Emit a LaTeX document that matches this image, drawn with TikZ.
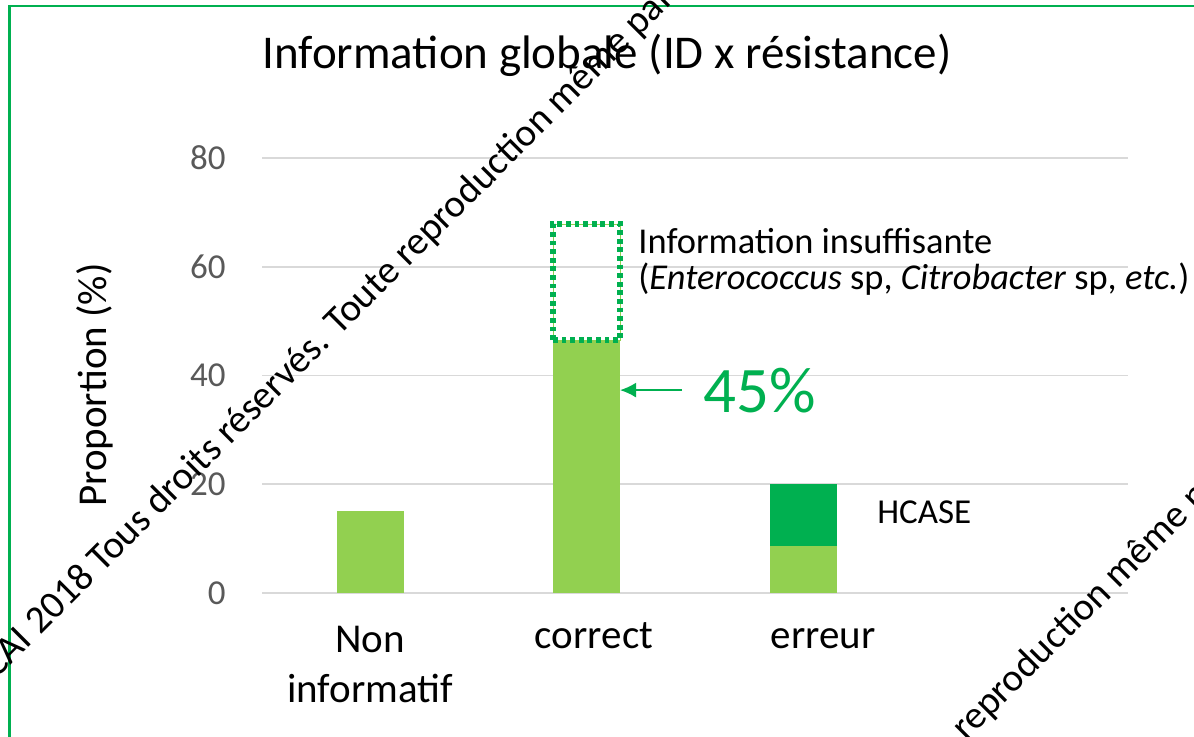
\documentclass[tikz,border=0pt]{standalone}
\usepackage{fontspec}
\setmainfont{Carlito}
\usepackage{tikz}
\usetikzlibrary{arrows.meta,positioning}
\definecolor{vertclair}{HTML}{92D050}
\definecolor{vertfonce}{HTML}{00B050}
\definecolor{grisaxe}{HTML}{595959}
\definecolor{grisgrille}{HTML}{D9D9D9}
\tikzset{
  grille/.style={draw=grisgrille,line width=0.8pt},
  graduation/.style={anchor=east,inner sep=0pt,text=grisaxe,font=\fontsize{17.5}{20}\selectfont},
  categorie/.style={anchor=base,inner sep=0pt,font=\fontsize{20.5}{24}\selectfont},
  barre/.style={rectangle,inner sep=0pt,outer sep=0pt,draw=none,fill=vertclair,minimum width=33.5pt},
  legende/.style={anchor=base west,inner sep=0pt,font=\fontsize{18.2}{21}\selectfont},
  filigrane/.style={rotate=45,anchor=base west,inner sep=0pt,font=\fontsize{19.5}{22}\selectfont}
}

\begin{document}
\begin{tikzpicture}[x=0.5pt,y=-0.5pt]
\useasboundingbox[fill=white] (0,0) rectangle (1194,736);
\draw[vertfonce,line width=1.4pt] (9.5,6) rectangle (1220,760);

\node[inner sep=0pt,anchor=base,font=\fontsize{23.5}{26}\selectfont] (titre) at (607,68) {Information globale (ID x r\'esistance)};
\node[rotate=90,inner sep=0pt,font=\fontsize{20.5}{24}\selectfont] (axey) at (95,385) {Proportion (\%)};

\draw[grille] (262,593) -- (1128,593);
\draw[grille] (262,484.25) -- (1128,484.25);
\draw[grille] (262,375.5) -- (1128,375.5);
\draw[grille] (262,266.75) -- (1128,266.75);
\draw[grille] (262,158) -- (1128,158);
\node[graduation] (g0) at (226,593) {0};
\node[graduation] (g20) at (226,484.25) {20};
\node[graduation] (g40) at (226,375.5) {40};
\node[graduation] (g60) at (226,266.75) {60};
\node[graduation] (g80) at (226,158) {80};

\node[barre,minimum height=41pt] (bnon) at (370,552) {};
\node[barre,minimum height=126pt] (bcorrect) at (586.5,467) {};
\node[barre,fill=none,draw=vertclair,line width=0.4pt,minimum height=58pt] (binsuf) at (586.5,282) {};
\draw[vertfonce,line width=2.6pt,dash pattern=on 2.4pt off 1.9pt] (binsuf.south west) rectangle (binsuf.north east);
\node[barre,minimum height=23.5pt] (berreur) at (803,569.5) {};
\node[barre,fill=vertfonce,minimum height=31pt] (bhcase) at (803,515) {};

\node[categorie] (cnon) at (370,652) {Non};
\node[categorie] (cinfo) at (370,702) {informatif};
\node[categorie] (ccorrect) at (594,648) {correct};
\node[categorie] (cerreur) at (823,648) {erreur};

\node[legende] (insuf1) at (638,253) {Information insuffisante};
\node[legende] (insuf2) at (638,289) {(\textit{Enterococcus} sp, \textit{Citrobacter} sp, \textit{etc.})};
\node[legende,font=\fontsize{17.5}{20}\selectfont] (hcase) at (877,523) {HCASE};

\node[anchor=base west,inner sep=0pt,text=vertfonce,font=\fontsize{32.5}{36}\selectfont] (pct) at (703,412) {45\%};
\draw[-{Latex[length=8pt,width=7.5pt]},vertfonce,line width=1pt,shorten <=10.5pt] (pct.west) -- (pct.west -| bcorrect.east);

% filigrane
\node[filigrane] (fil1) at (-4,680) {CAI 2018 Tous droits r\'eserv\'es. Toute reproduction m\^eme partielle interdite};
\node[filigrane] (fil2) at (966,742) {reproduction m\^eme partielle interdite};
\end{tikzpicture}
\end{document}
